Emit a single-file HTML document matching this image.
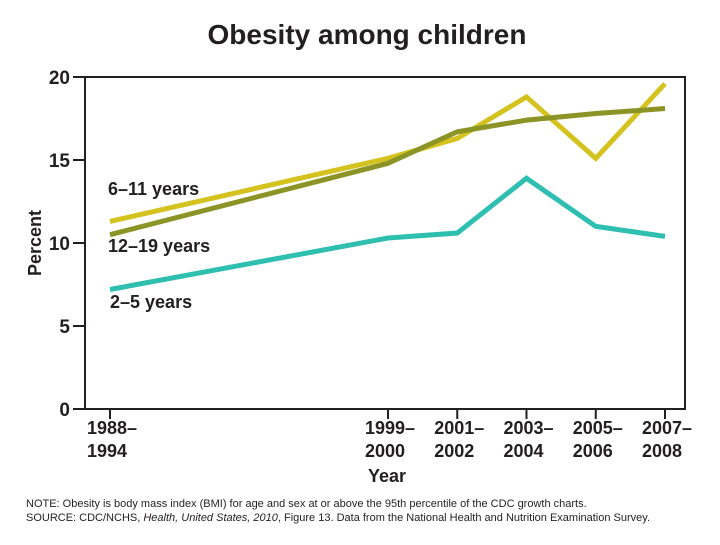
<!DOCTYPE html>
<html><head><meta charset="utf-8"><style>
body{margin:0;background:#fff;}
svg text{font-family:"Liberation Sans",sans-serif;fill:#231f20;}
</style></head><body>
<svg id="chart" width="720" height="540" viewBox="0 0 720 540" xmlns="http://www.w3.org/2000/svg">
<text x="367" y="44" text-anchor="middle" font-size="28" font-weight="bold">Obesity among children</text>
<g id="axes"></g>
<g id="series"></g>
<text transform="translate(41,243) rotate(-90)" text-anchor="middle" font-size="18" font-weight="bold">Percent</text>
<text x="387" y="482" text-anchor="middle" font-size="18" font-weight="bold">Year</text>
<text x="26" y="507" font-size="11">NOTE: Obesity is body mass index (BMI) for age and sex at or above the 95th percentile of the CDC growth charts.</text>
<text x="26" y="521" font-size="11">SOURCE: CDC/NCHS, <tspan font-style="italic">Health, United States, 2010</tspan>, Figure 13. Data from the National Health and Nutrition Examination Survey.</text>
<text x="108" y="195" font-size="18" font-weight="bold">6–11 years</text>
<text x="108" y="252" font-size="18" font-weight="bold">12–19 years</text>
<text x="110" y="308" font-size="18" font-weight="bold">2–5 years</text>
</svg>
<script>
const periodMid=[1991,1999.5,2001.5,2003.5,2005.5,2007.5];
const periodTop=["1988–","1999–","2001–","2003–","2005–","2007–"];
const periodBottom=["1994","2000","2002","2004","2006","2008"];
const yTicks=[0,5,10,15,20];
const s611=[11.3,15.1,16.3,18.8,15.1,19.6];
const s1219=[10.5,14.8,16.7,17.4,17.8,18.1];
const s25=[7.2,10.3,10.6,13.9,11.0,10.4];
const NS="http://www.w3.org/2000/svg";
const X=v=>v<=1999.5?110+(v-1991)*(388-110)/8.5:388+(v-1999.5)*(665-388)/8;
const Y=v=>409-v*(409-77)/20;
function mk(tag,attrs,parent){const e=document.createElementNS(NS,tag);for(const k in attrs)e.setAttribute(k,attrs[k]);parent.appendChild(e);return e;}
const ax=document.getElementById('axes');
let f=mk('rect',{x:85,y:Y(20),width:600,height:Y(0)-Y(20),fill:'none',stroke:'#231f20','stroke-width':2},ax);


yTicks.forEach(t=>{
 let l=mk('line',{x1:73,x2:85,y1:Y(t),y2:Y(t),stroke:'#231f20','stroke-width':2},ax);
 
 
 let tx=mk('text',{x:70,y:Y(t)+7,'text-anchor':'end','font-size':19,'font-weight':'bold'},ax);
 tx.textContent=t;
 
 
});
periodMid.forEach((p,i)=>{
 let l=mk('line',{x1:X(p),x2:X(p),y1:409,y2:419,stroke:'#231f20','stroke-width':2},ax);
 
 
 let tx=mk('text',{x:X(p)-23,y:434,'font-size':18,'font-weight':'bold'},ax);
 tx.textContent=periodTop[i];
 
 
 let tb=mk('text',{x:X(p)-23,y:457,'font-size':18,'font-weight':'bold'},ax);
 tb.textContent=periodBottom[i];
 
 
});
const sg=document.getElementById('series');
[[s611,'#d4c21e','line-6-11'],[s1219,'#8c9426','line-12-19'],[s25,'#2ebfb0','line-2-5']].forEach(([d,c,n])=>{
 const pts=d.map((v,i)=>X(periodMid[i])+','+Y(v)).join(' ');
 let pl=mk('polyline',{points:pts,fill:'none',stroke:c,'stroke-width':5,'stroke-linejoin':'miter'},sg);
 
 
});
</script>
</body></html>
